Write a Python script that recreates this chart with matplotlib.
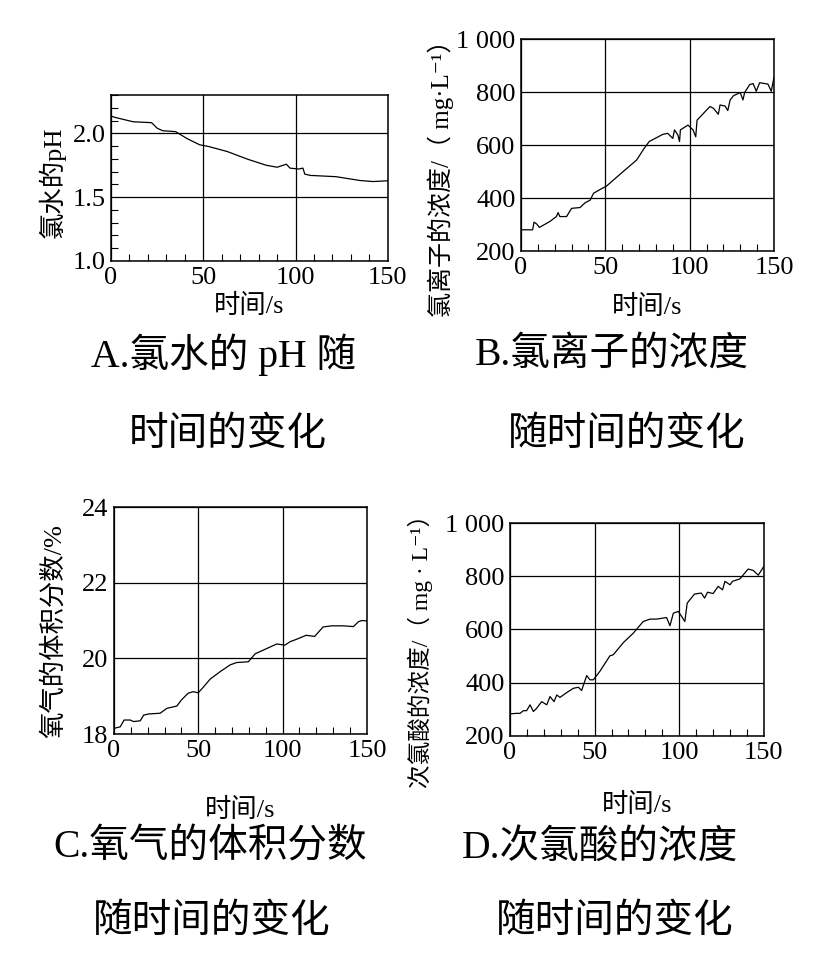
import numpy as np
import matplotlib
matplotlib.use("Agg")
import matplotlib.pyplot as plt
from matplotlib.ticker import MultipleLocator

plt.rcParams['font.family'] = ['Liberation Serif', 'Noto Sans CJK SC', 'DejaVu Sans']

# A: pH of chlorine water
t_ph = [0, 2, 12, 22, 25, 28, 35, 41, 48, 53, 63, 74, 84, 90, 94, 95, 97,
        101.6, 104, 105, 108, 122, 128, 135, 142, 150]
ph = [2.135, 2.125, 2.09, 2.083, 2.04, 2.02, 2.013, 1.96, 1.91, 1.896, 1.857,
      1.797, 1.75, 1.734, 1.753, 1.758, 1.727, 1.72, 1.727, 1.68, 1.67, 1.66,
      1.646, 1.63, 1.622, 1.628]

# B: chloride ion concentration
t_cl = [0, 6.9, 7.7, 9.3, 10.9, 17, 21, 22, 23, 27, 30, 35, 38, 41, 43, 48,
        50.7, 60.6, 68.5, 73, 76, 84, 87, 90, 91, 93, 94, 94.5, 99, 102,
        103.6, 104.4, 112, 114, 117, 118, 121, 122.6, 124, 126, 129, 130,
        131.6, 132.6, 135.6, 137.6, 139.5, 141.5, 146.4, 148.4, 150]
cl = [280, 280, 309, 302, 289, 311, 330, 345, 330, 330, 361, 364, 382, 392,
      418, 436, 445, 500, 543, 587, 613, 640, 644, 625, 657, 638, 613, 657,
      675, 657, 631, 694, 745, 739, 716, 751, 747, 730, 770, 786, 795, 798,
      770, 798, 828, 832, 803, 835, 830, 803, 855]

# C: oxygen volume fraction
t_o2 = [0, 3.7, 6, 9.7, 11.6, 15.6, 17.6, 20.5, 27.4, 31.4, 37.3, 40, 44, 47,
        50, 53, 57, 63, 69, 72.8, 79.7, 83.7, 90.6, 96.5, 101.4, 104.4, 108,
        114, 119, 124, 129, 136, 142, 145, 147, 150]
o2 = [18.15, 18.19, 18.37, 18.37, 18.33, 18.35, 18.5, 18.53, 18.55, 18.68,
      18.74, 18.9, 19.08, 19.12, 19.09, 19.24, 19.45, 19.65, 19.83, 19.89,
      19.91, 20.12, 20.26, 20.38, 20.35, 20.44, 20.5, 20.61, 20.58, 20.83,
      20.86, 20.86, 20.84, 20.97, 21.0, 20.99]

# D: HClO concentration
t_hclo = [0, 3.9, 5.9, 7.9, 9.8, 11.8, 13.8, 15.7, 18.7, 21.7, 23.6, 26, 27.6,
          29.5, 33.5, 37.4, 40.4, 42.3, 45.3, 47.2, 49.2, 53, 59, 61, 67,
          72.8, 78.7, 82.7, 86.6, 92.5, 94.5, 96.5, 99.4, 101.4, 103.3, 104.7,
          109, 113, 115, 116.7, 120, 123, 125.6, 127, 130, 131.5, 135.8,
          137.8, 140.7, 143.7, 146.7, 150]
hclo = [283, 285, 285, 295, 295, 317, 292, 304, 329, 317, 348, 329, 354, 345,
        363, 379, 383, 371, 427, 411, 411, 442, 501, 505, 551, 586, 630, 639,
        639, 645, 614, 661, 668, 649, 630, 699, 733, 737, 718, 740, 735, 762,
        749, 781, 768, 781, 790, 805, 827, 822, 804, 837]

xticks = [0, 50, 100, 150]

fig = plt.figure(figsize=(8.24, 9.68), dpi=100)


def make_ax(rect, x, y, ylim, yticks, yticklabels, ylabel, ylab_pos,
            xlab_y, ylab_size=18, yminor=None):
    ax = fig.add_axes(rect)
    ax.plot(x, y, color='black', lw=0.9)
    ax.set_xlim(0, 150)
    ax.set_ylim(*ylim)
    ax.set_xticks(xticks)
    ax.set_yticks(yticks)
    ax.set_yticklabels(yticklabels)
    ax.xaxis.set_minor_locator(MultipleLocator(10))
    if yminor:
        ax.yaxis.set_minor_locator(MultipleLocator(yminor))
    ax.grid(True, which='major', color='black', lw=0.9)
    ax.tick_params(which='major', length=0, labelsize=19, pad=4)
    ax.tick_params(which='minor', direction='in', length=5, width=0.8)
    for s in ax.spines.values():
        s.set_linewidth(1.1)
    ax.set_ylabel(ylabel, fontsize=ylab_size)
    ax.yaxis.set_label_coords(*ylab_pos)
    ax.set_xlabel('时间/s', fontsize=19)
    ax.xaxis.set_label_coords(0.5, xlab_y)
    return ax


make_ax([0.1347, 0.7304, 0.336, 0.1715], t_ph, ph, (1.0, 2.3),
        [1.0, 1.5, 2.0], ['1.0', '1.5', '2.0'], '氯水的pH',
        (-0.162, 0.476), -0.2, ylab_size=19, yminor=0.1)

make_ax([0.6323, 0.7407, 0.307, 0.219], t_cl, cl, (200, 1000),
        [200, 400, 600, 800, 1000], ['200', '400', '600', '800', '1 000'],
        '氯离子的浓度/（ mg·L⁻¹）', (-0.265, 0.373), -0.208)

make_ax([0.1383, 0.2417, 0.307, 0.2345], t_o2, o2, (18, 24),
        [18, 20, 22, 24], ['18', '20', '22', '24'], '氧气的体积分数/%',
        (-0.19, 0.454), -0.281, ylab_size=19)

make_ax([0.619, 0.2397, 0.308, 0.22], t_hclo, hclo, (200, 1000),
        [200, 400, 600, 800, 1000], ['200', '400', '600', '800', '1 000'],
        '次氯酸的浓度/（ mg · L⁻¹）', (-0.303, 0.427), -0.266, ylab_size=17)

# captions
cap = dict(fontsize=28.5, ha='center', va='center')
fig.text(224 / 824, 1 - 355 / 968, 'A.氯水的 pH 随', **cap)
fig.text(228 / 824, 1 - 435 / 968, '时间的变化', **cap)
fig.text(612 / 824, 1 - 355 / 968, 'B.氯离子的浓度', **cap)
fig.text(627 / 824, 1 - 435 / 968, '随时间的变化', **cap)
fig.text(210 / 824, 1 - 848 / 968, 'C.氧气的体积分数', **cap)
fig.text(212 / 824, 1 - 922 / 968, '随时间的变化', **cap)
fig.text(600 / 824, 1 - 848 / 968, 'D.次氯酸的浓度', **cap)
fig.text(615 / 824, 1 - 922 / 968, '随时间的变化', **cap)

fig.savefig('out.png', dpi=100)
